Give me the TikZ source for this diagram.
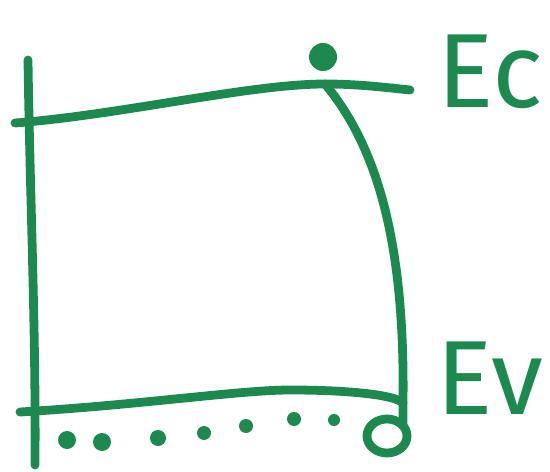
\documentclass[tikz,border=0pt]{standalone}
\usepackage{fontspec}
\setsansfont{Fira Sans}
\usepackage{xcolor}
\usepackage{tikz}
\definecolor{marker}{RGB}{28,138,78}

\begin{document}
\begin{tikzpicture}[x=0.02cm, y=-0.02cm, line width=5pt, marker, line cap=round, line join=round]
  \useasboundingbox (0,0) rectangle (550,472);
  % left axis
  \draw (28,60) .. controls (30,200) and (36,330) .. (35,465);
  % conduction band
  \coordinate (ctop) at (325,84);
  \draw (15,123) .. controls (120,115) and (250,84) .. (ctop) .. controls (360,84) and (390,88) .. (410,90);
  % valence band
  \coordinate (vtop) at (403,403);
  \draw (20,412) .. controls (140,405) and (240,390) .. (290,390) .. controls (350,390) and (395,395) .. (vtop);
  % right edge
  \draw (ctop) .. controls (380,150) and (405,250) .. (vtop) -- (vtop |- 0,425);
  % electron and hole
  \fill (323,57) circle (14);
  \draw (387,436) ellipse (20 and 17);
  \foreach \x/\y/\r in {67/440/9, 102/442/9, 158/438/8, 204/433/7, 246/426/7, 294/419/7, 334/420/6}
    \fill (\x,\y) circle (\r);
  \node[font=\sffamily\fontsize{60}{60}\selectfont] (Ec) at (490,72) {Ec};
  \node[font=\sffamily\fontsize{60}{60}\selectfont] (Ev) at (490,378) {Ev};
\end{tikzpicture}
\end{document}
